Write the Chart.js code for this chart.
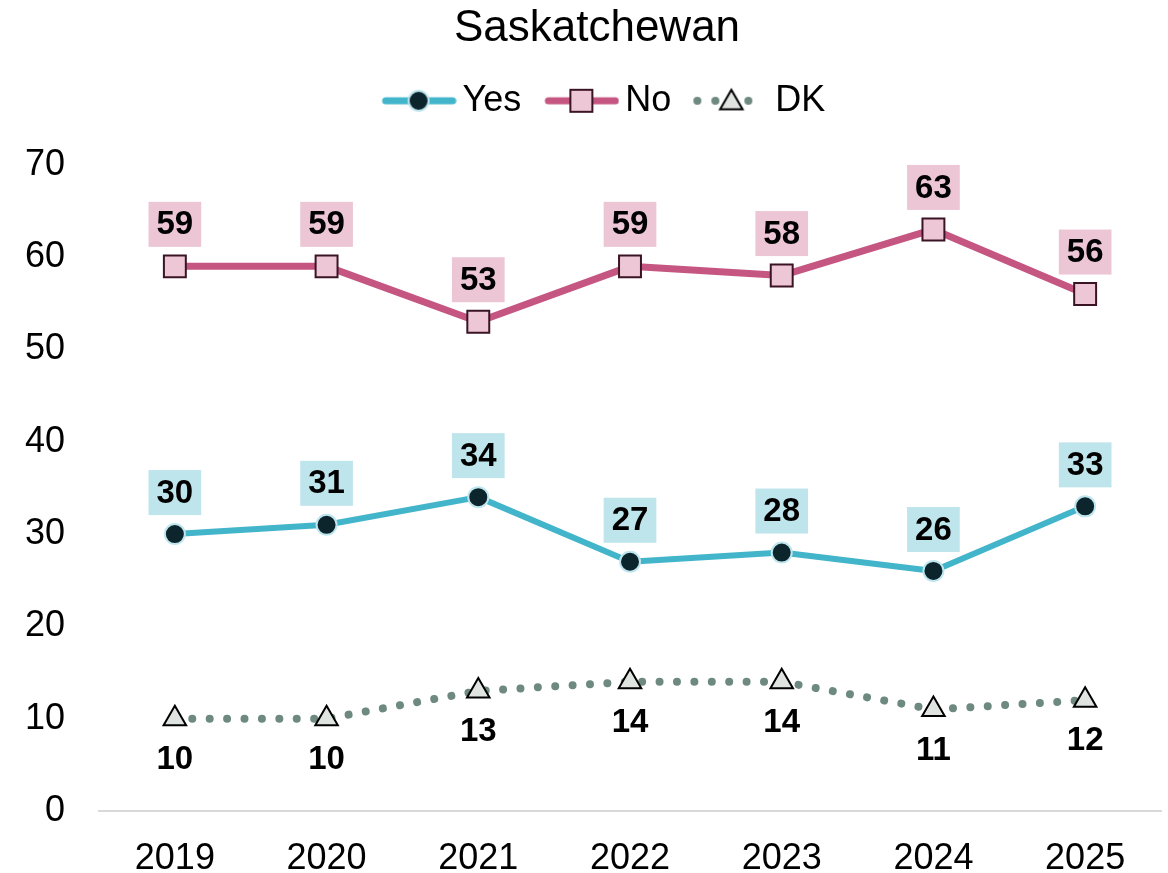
<!DOCTYPE html>
<html><head><meta charset="utf-8">
<script src="https://cdn.jsdelivr.net/npm/chart.js@4/dist/chart.umd.min.js"></script>
<style>html,body{margin:0;padding:0;background:#fff}#wrap{width:1168px;height:873px}</style>
</head><body><div id="wrap"><canvas id="c" width="1168" height="873"></canvas></div>
<script>
const categories = ['2019','2020','2021','2022','2023','2024','2025'];
const yesValues = [30,31,34,27,28,26,33];
const noValues = [59,59,53,59,58,63,56];
const dkValues = [10,10,13,14,14,11,12];
const yTicks = [0,10,20,30,40,50,60,70];
const seriesNames = ['Yes','No','DK'];
const chartTitle = 'Saskatchewan';

const FONT = "'Liberation Sans', Arial, Helvetica, sans-serif";
const YES = '#43B5CB', YES_PT = '#0C242C', YES_PT_B = '#BFE6EE', YES_BG = '#BFE5EC';
const NO = '#C55681', NO_PT = '#EEC7D6', NO_PT_B = '#3A1325', NO_BG = '#EDC6D6';
const DK = '#6E8A80', DK_PT = '#DFE4E1', DK_PT_B = '#000000';

function triPath(g, x, y, r){
  g.beginPath();
  let a = 0;
  g.moveTo(x + Math.sin(a)*r, y - Math.cos(a)*r);
  a += 2*Math.PI/3; g.lineTo(x + Math.sin(a)*r, y - Math.cos(a)*r);
  a += 2*Math.PI/3; g.lineTo(x + Math.sin(a)*r, y - Math.cos(a)*r);
  g.closePath();
}
function legendImg(kind){
  const W = 100, H = 40, c = document.createElement('canvas');
  c.width = W; c.height = H;
  const g = c.getContext('2d'), m = 62, cy = 20;
  if (kind === 0){
    g.strokeStyle = YES; g.lineWidth = 7; g.lineCap = 'round';
    g.beginPath(); g.moveTo(m-33, cy); g.lineTo(m+34, cy); g.stroke();
    g.beginPath(); g.arc(m, cy, 10, 0, Math.PI*2); g.fillStyle = YES_PT; g.fill();
    g.lineWidth = 2; g.strokeStyle = YES_PT_B; g.stroke();
  } else if (kind === 1){
    g.strokeStyle = NO; g.lineWidth = 7; g.lineCap = 'round';
    g.beginPath(); g.moveTo(m-33, cy); g.lineTo(m+34, cy); g.stroke();
    g.fillStyle = NO_PT; g.fillRect(m-11, cy-11, 22, 22);
    g.lineWidth = 2; g.strokeStyle = NO_PT_B; g.strokeRect(m-11, cy-11, 22, 22);
  } else {
    g.fillStyle = DK;
    [-34,-16,17].forEach(dx => { g.beginPath(); g.arc(m+dx, cy, 4, 0, Math.PI*2); g.fill(); });
    triPath(g, m, cy+2, 13); g.fillStyle = DK_PT; g.fill();
    g.lineWidth = 2; g.strokeStyle = DK_PT_B; g.lineJoin = 'miter'; g.stroke();
  }
  return c;
}
const legendImgs = [legendImg(0), legendImg(1), legendImg(2)];

const LABEL_CFG = [
  {dy: -41.5, bg: YES_BG},
  {dy: -42, bg: NO_BG},
  {dy: 40, bg: null}
];

const labelPlugin = {
  id: 'vlabels',
  afterDatasetsDraw(chart){
    const ctx = chart.ctx;
    chart.data.datasets.forEach((ds, i) => {
      const meta = chart.getDatasetMeta(i);
      const cfg = LABEL_CFG[i];
      meta.data.forEach((pt, j) => {
        const txt = String(ds.data[j]);
        ctx.save();
        ctx.font = 'bold 33px ' + FONT;
        const w = ctx.measureText(txt).width;
        const cx = pt.x, cy = pt.y + cfg.dy;
        if (cfg.bg){ ctx.fillStyle = cfg.bg; ctx.fillRect(cx - w/2 - 8, cy - 22.5, w + 16, 45); }
        ctx.fillStyle = '#000'; ctx.textAlign = 'center'; ctx.textBaseline = 'middle';
        ctx.fillText(txt, cx, cy + 1);
        ctx.restore();
      });
    });
  }
};

function makeSpacer(id, position, size, horizontal){
  return {
    id, position, weight: 10, fullSize: horizontal, options: {},
    left: 0, top: 0, right: 0, bottom: 0, width: 0, height: 0,
    isHorizontal(){ return horizontal; },
    update(maxWidth, maxHeight){
      if (horizontal){ this.width = maxWidth; this.height = size; }
      else { this.width = size; this.height = maxHeight; }
    },
    draw(){}
  };
}
const spacerPlugin = {
  id: 'spacer',
  beforeInit(chart){
    Chart.layouts.addBox(chart, makeSpacer('topGap', 'top', 36, true));
    Chart.layouts.addBox(chart, makeSpacer('rightGap', 'right', 11, false));
  }
};

new Chart(document.getElementById('c'), {
  type: 'line',
  data: {
    labels: categories,
    datasets: [
      {label: seriesNames[0], data: yesValues, borderColor: YES, borderWidth: 6, pointStyle: 'circle', pointRadius: 10, pointBackgroundColor: YES_PT, pointBorderColor: YES_PT_B, pointBorderWidth: 2, tension: 0, borderCapStyle: 'round', borderJoinStyle: 'round'},
      {label: seriesNames[1], data: noValues, borderColor: NO, borderWidth: 7, pointStyle: 'rect', pointRadius: 15.5, pointBackgroundColor: NO_PT, pointBorderColor: NO_PT_B, pointBorderWidth: 2, tension: 0, borderCapStyle: 'round', borderJoinStyle: 'round'},
      {label: seriesNames[2], data: dkValues, borderColor: DK, borderWidth: 8, borderDash: [0.01, 17.4], borderCapStyle: 'round', pointStyle: 'triangle', pointRadius: 13, pointBackgroundColor: DK_PT, pointBorderColor: DK_PT_B, pointBorderWidth: 2, tension: 0}
    ]
  },
  options: {
    responsive: false, animation: false, events: [],
    layout: {autoPadding: false, padding: {left: 22, right: -4, top: 1, bottom: 0}},
    plugins: {
      tooltip: {enabled: false},
      title: {display: true, text: chartTitle, color: '#000', font: {size: 44, family: FONT, weight: 'normal'}, padding: {top: 1, bottom: 18}},
      legend: {
        display: true, position: 'top',
        labels: {
          usePointStyle: true, pointStyleWidth: 76, padding: 10, color: '#000',
          font: {size: 36, family: FONT},
          generateLabels(chart){
            return chart.data.datasets.map((ds, i) => ({text: ds.label, pointStyle: legendImgs[i], fillStyle: 'transparent', strokeStyle: 'transparent', lineWidth: 0, hidden: false, datasetIndex: i, fontColor: '#000'}));
          }
        }
      }
    },
    scales: {
      x: {
        offset: true,
        grid: {display: false, drawTicks: false},
        border: {display: true, color: '#D9D9D9', width: 2},
        ticks: {color: '#000', font: {size: 36, family: FONT}, padding: 26, maxRotation: 0, autoSkip: false},
        afterFit(s){ s.height = 62; s.paddingLeft = 0; s.paddingRight = 0; }
      },
      y: {
        min: 0, max: 70,
        afterBuildTicks(s){ s.ticks = yTicks.map(v => ({value: v})); },
        grid: {display: false, drawTicks: false},
        border: {display: false},
        ticks: {color: '#000', font: {size: 36, family: FONT}, padding: 34},
        afterFit(s){ s.width = 77; }
      }
    }
  },
  plugins: [spacerPlugin, labelPlugin]
});
</script></body></html>
